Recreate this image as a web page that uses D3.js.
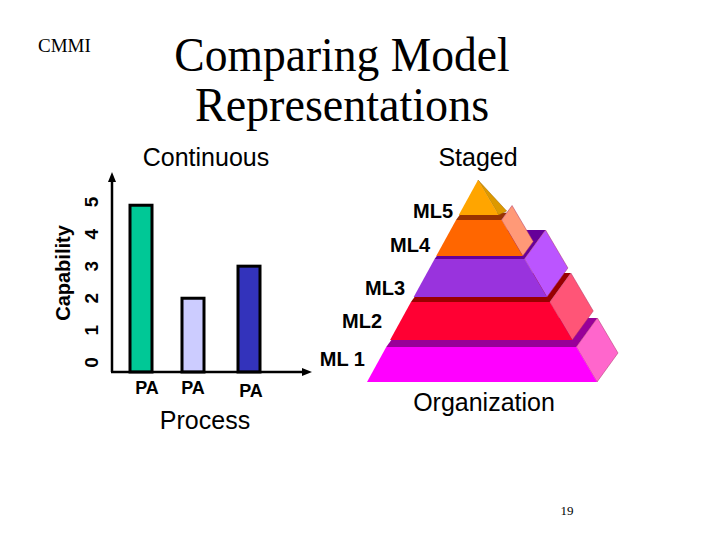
<!DOCTYPE html>
<html><head><meta charset="utf-8">
<script src="https://cdn.jsdelivr.net/npm/d3@7"></script>
<style>body{margin:0;background:#fff}</style></head>
<body><svg id="c" width="720" height="540"></svg>
<script>
const categories = ["PA","PA","PA"];
const capability = [4.9, 2.0, 3.0];
const barColors = ["#00c896","#ccccff","#3333bb"];
const tickValues = [0,1,2,3,4,5];
const levels = ["ML 1","ML2","ML3","ML4","ML5"];
const levelFront = ["#ff00ff","#ff0033","#9933dd","#ff6600","#ffa500"];
const levelSide  = ["#ff66cc","#ff5577","#bb55ff","#ff9977","#dd9900"];
const levelTop   = ["#990099","#990000","#660099","#993300","#cc7700"];

const svg = d3.select("#c");
const A = "Arial, 'Liberation Sans', sans-serif", T = "'Times New Roman','Liberation Serif',serif";

svg.append("text").attr("x",38).attr("y",52).attr("font-family",T).attr("font-size",19).text("CMMI");
svg.append("text").attr("transform","translate(342,71) scale(0.93,1)").attr("text-anchor","middle").attr("font-family",T).attr("font-size",49).text("Comparing Model");
svg.append("text").attr("transform","translate(342,121) scale(0.94,1)").attr("text-anchor","middle").attr("font-family",T).attr("font-size",49).text("Representations");
svg.append("text").attr("x",206).attr("y",166).attr("text-anchor","middle").attr("font-family",A).attr("font-size",25).text("Continuous");
svg.append("text").attr("x",478).attr("y",166).attr("text-anchor","middle").attr("font-family",A).attr("font-size",25).text("Staged");
svg.append("text").attr("x",205).attr("y",429).attr("text-anchor","middle").attr("font-family",A).attr("font-size",25).text("Process");
svg.append("text").attr("x",484).attr("y",411).attr("text-anchor","middle").attr("font-family",A).attr("font-size",25).text("Organization");
svg.append("text").attr("x",567).attr("y",515).attr("text-anchor","middle").attr("fill","#000").attr("font-family",T).attr("font-size",13).text("19");

const y = d3.scaleLinear().domain([-0.3,5.5]).range([372,186]);
const xc = d3.scaleOrdinal().domain(d3.range(categories.length)).range([141,193,249]);
svg.selectAll("rect.bar").data(capability).join("rect")
  .attr("x",(d,i)=>xc(i)-11).attr("width",22)
  .attr("y",d=>y(d)).attr("height",d=>y(-0.3)-y(d))
  .attr("fill",(d,i)=>barColors[i]).attr("stroke","#000").attr("stroke-width",3);
svg.selectAll("text.pa").data(categories).join("text")
  .attr("x",(d,i)=>xc(i)+(i==2?2:0)+(i==0?6:0)).attr("y",(d,i)=>i==2?397:394).attr("text-anchor","middle")
  .attr("font-family",A).attr("font-weight","bold").attr("font-size",18).text(d=>d);
svg.selectAll("text.tick").data(tickValues).join("text")
  .attr("transform",d=>`translate(98,${y(d)}) rotate(-90)`).attr("text-anchor","middle")
  .attr("font-family",A).attr("font-weight","bold").attr("font-size",19).text(d=>d);
svg.append("text").attr("transform","translate(70,273) rotate(-90)").attr("text-anchor","middle")
  .attr("font-family",A).attr("font-weight","bold").attr("font-size",20).text("Capability");
svg.append("line").attr("x1",112).attr("y1",372).attr("x2",112).attr("y2",180).attr("stroke","#000").attr("stroke-width",2.5);
svg.append("path").attr("d","M112,172 L108,182 L116,182Z");
svg.append("line").attr("x1",111).attr("y1",372).attr("x2",306).attr("y2",372).attr("stroke","#000").attr("stroke-width",2.5);
svg.append("path").attr("d","M312,372 L302,368 L302,376Z");

const apex=[478,180], baseY=382, baseL=367, baseR=597;
const bands = [[382,347],[340,302],[297,259],[256,220],[215,180]];
const edgeL = yy => apex[0]-(apex[0]-baseL)*(yy-apex[1])/(baseY-apex[1]);
const edgeR = yy => apex[0]+(baseR-apex[0])*(yy-apex[1])/(baseY-apex[1]);
levels.forEach((name,i)=>{
  const [yb,yt]=bands[i];
  const g=svg.append("g");
  if(i<4){
    const s = i==3?0.5:1, dx=21*s, dy=-29*s;
    const k = i==3?0.5:1;
    g.append("path").attr("d",`M${edgeL(yt)},${yt}L${edgeR(yt)},${yt}L${edgeR(yt)+dx},${yt+dy}L${edgeR(yt)+dx*k},${yt+dy*k}L${edgeL(yt)+dx*k},${yt+dy*k}Z`).attr("fill",levelTop[i]);
    g.append("path").attr("d",`M${edgeR(yb)},${yb}L${edgeR(yt)},${yt}L${edgeR(yt)+dx},${yt+dy}L${edgeR(yb)+dx},${yb+dy}Z`).attr("fill",levelSide[i]).attr("stroke","#aa3366").attr("stroke-width",0.5);
  } else {
    g.append("path").attr("d",`M${edgeR(yb)},${yb}L${apex[0]},${apex[1]}L${edgeR(yb)+8},${yb-4}Z`).attr("fill",levelSide[i]).attr("stroke","#996600").attr("stroke-width",0.5);
  }
  g.append("path").attr("d",`M${edgeL(yb)},${yb}L${edgeR(yb)},${yb}L${edgeR(yt)},${yt}L${edgeL(yt)},${yt}Z`).attr("fill",levelFront[i]);
});
const labelPos=[[365,366],[382,328],[405,295],[430,252],[453,218]];
svg.selectAll("text.ml").data(levels).join("text")
  .attr("x",(d,i)=>labelPos[i][0]).attr("y",(d,i)=>labelPos[i][1]).attr("text-anchor","end")
  .attr("font-family",A).attr("font-weight","bold").attr("font-size",20).text(d=>d);
</script></body></html>
